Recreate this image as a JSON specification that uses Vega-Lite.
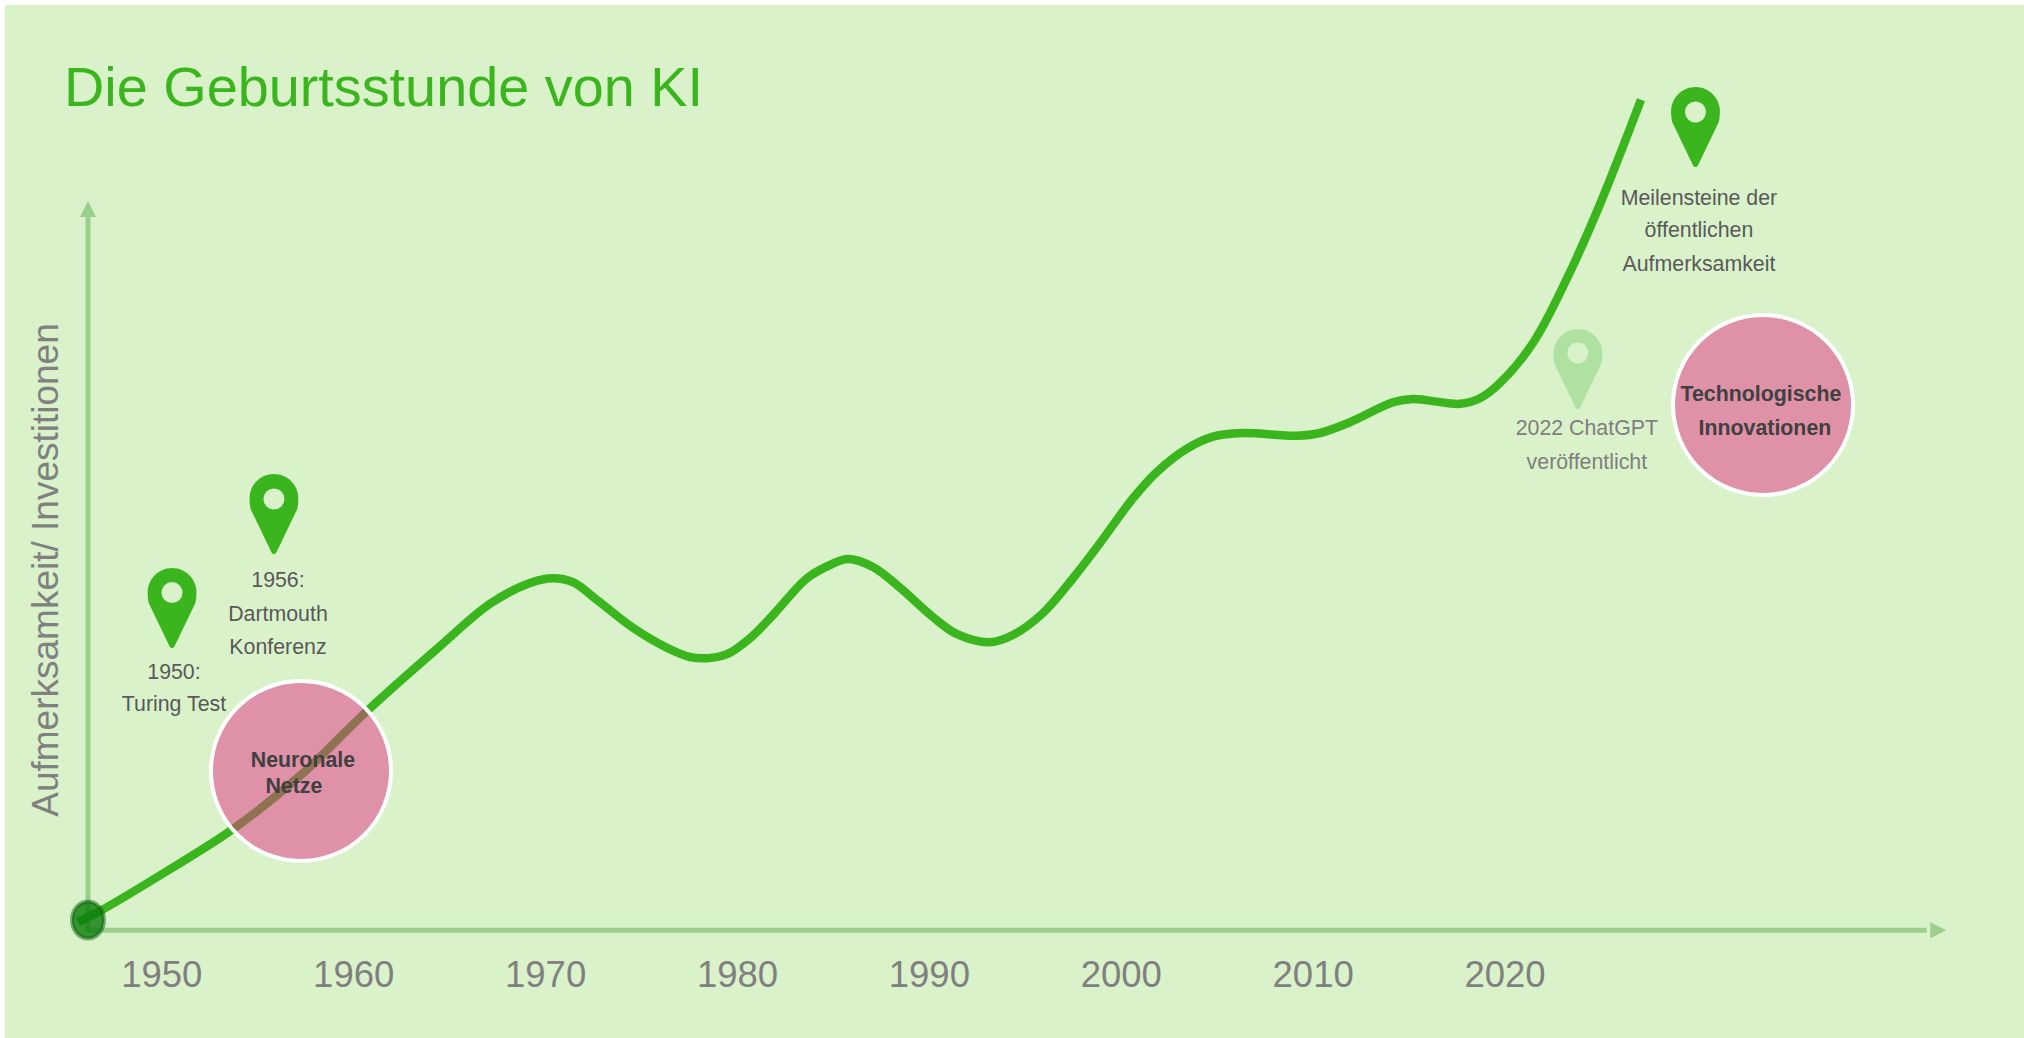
{
"$schema":"https://vega.github.io/schema/vega-lite/v6.json",
"width":2024,"height":1038,
"autosize":{"type":"fit","contains":"padding"},
"padding":{"left":5,"top":5,"right":0,"bottom":0},
"background":"#ffffff",
"view":{"fill":"#daf2ca","stroke":null},
"title":{"text":"Die Geburtsstunde von KI","anchor":"start","frame":"group","offset":-157,"dx":59,"baseline":"alphabetic","fontSize":55.8,"font":"Liberation Sans","fontWeight":"normal","color":"#3ab51d"},
"datasets":{
"curve":[{"year":1945.66,"value":1.13},{"year":1946.81,"value":2.5},{"year":1950.3,"value":7.5},{"year":1953.74,"value":12.75},{"year":1957.23,"value":19.4},{"year":1960.72,"value":27.5},{"year":1964.52,"value":35.6},{"year":1967.13,"value":40.9},{"year":1969.21,"value":43.5},{"year":1970.41,"value":44.1},{"year":1971.45,"value":43.6},{"year":1972.7,"value":41.4},{"year":1974.58,"value":37.9},{"year":1976.35,"value":35.4},{"year":1977.55,"value":34.25},{"year":1978.44,"value":34.1},{"year":1979.48,"value":34.6},{"year":1980.68,"value":36.6},{"year":1981.88,"value":39.5},{"year":1983.65,"value":44.1},{"year":1984.85,"value":45.75},{"year":1985.79,"value":46.5},{"year":1987.09,"value":45.5},{"year":1988.5,"value":42.9},{"year":1990.21,"value":39.25},{"year":1991.47,"value":37.1},{"year":1993.19,"value":36.1},{"year":1994.38,"value":37},{"year":1995.95,"value":39.75},{"year":1997.51,"value":44.1},{"year":1998.92,"value":48.5},{"year":2000.64,"value":54.1},{"year":2001.89,"value":57.4},{"year":2003.45,"value":60.3},{"year":2004.81,"value":61.8},{"year":2006.37,"value":62.25},{"year":2009.18,"value":61.9},{"year":2010.38,"value":62.25},{"year":2011.95,"value":63.6},{"year":2014.19,"value":66.1},{"year":2015.23,"value":66.5},{"year":2017.68,"value":65.9},{"year":2018.72,"value":66.6},{"year":2019.76,"value":68.5},{"year":2021.48,"value":73.5},{"year":2023.26,"value":81.6},{"year":2025.0,"value":91.0},{"year":2027.11,"value":103.9}],
"pins":[{"year":1950.56,"value":40.375,"hole":42.3,"state":"aktiv"},{"year":1955.87,"value":52.125,"hole":54,"state":"aktiv"},{"year":2029.95,"value":100.5,"hole":102.375,"state":"aktiv"},{"year":2023.82,"value":70.25,"hole":72.25,"state":"blass"}],
"labels":[{"year":1950.66,"value":32.3,"text":"1950:","state":"aktiv"},{"year":1950.66,"value":28.3,"text":"Turing Test","state":"aktiv"},{"year":1956.08,"value":43.7,"text":"1956:","state":"aktiv"},{"year":1956.08,"value":39.55,"text":"Dartmouth","state":"aktiv"},{"year":1956.08,"value":35.35,"text":"Konferenz","state":"aktiv"},{"year":2030.13,"value":91.5,"text":"Meilensteine der","state":"aktiv"},{"year":2030.13,"value":87.45,"text":"öffentlichen","state":"aktiv"},{"year":2030.13,"value":83.2,"text":"Aufmerksamkeit","state":"aktiv"},{"year":2024.29,"value":62.7,"text":"2022 ChatGPT","state":"blass"},{"year":2024.29,"value":58.45,"text":"veröffentlicht","state":"blass"}],
"topics":[{"year":1957.38,"value":21.3,"text":"Neuronale"},{"year":1956.91,"value":18.05,"text":"Netze"},{"year":2033.36,"value":66.95,"text":"Technologische"},{"year":2033.57,"value":62.7,"text":"Innovationen"}],
"circles":[{"year":1957.28,"value":20,"name":"Neuronale Netze"},{"year":2033.47,"value":65.75,"name":"Technologische Innovationen"}]
},
"encoding":{
"x":{"field":"year","type":"quantitative","scale":{"domain":[1941.855,2047.07],"nice":false,"zero":false},
"axis":{"values":[1950,1960,1970,1980,1990,2000,2010,2020],"format":"d","title":null,"domain":false,"ticks":false,"grid":false,"labelFontSize":36.5,"labelColor":"#808080","labelFont":"Liberation Sans","labelPadding":0,"offset":-81}},
"y":{"field":"value","type":"quantitative","scale":{"domain":[-13.375,115.75],"nice":false,"zero":false},
"axis":{"title":"Aufmerksamkeit/ Investitionen","titleFontSize":37,"titleColor":"#808080","titleFontWeight":"normal","titleFont":"Liberation Sans","titleAngle":-90,"titleX":41,"titleY":564.5,"titleAlign":"center","titleBaseline":"middle","labels":false,"ticks":false,"domain":false,"grid":false}}
},
"layer":[
{"data":{"values":[{"year":1946.18,"year2":2042.0,"value":0.1}]},"mark":{"type":"rule","color":"#9ccf8b","strokeWidth":5},"encoding":{"x2":{"field":"year2"}}},
{"data":{"values":[{"year":1946.18,"value":0,"value2":89.25}]},"mark":{"type":"rule","color":"#9ccf8b","strokeWidth":5},"encoding":{"y2":{"field":"value2"}}},
{"data":{"values":[{"year":2042.6,"value":0.1}]},"mark":{"type":"point","filled":true,"opacity":1,"color":"#9ccf8b","shape":"M1,0 L-1,1 L-1,-1 Z","size":256}},
{"data":{"values":[{"year":1946.18,"value":90.25}]},"mark":{"type":"point","filled":true,"opacity":1,"color":"#9ccf8b","shape":"M0,-1 L1,1 L-1,1 Z","size":256}},
{"data":{"name":"curve"},"mark":{"type":"line","color":"#3ab51d","strokeWidth":8.5,"interpolate":"catmull-rom","strokeCap":"butt"}},
{"data":{"values":[{"year":1946.18,"value":1.375}]},"mark":{"type":"point","filled":true,"shape":"M-0.865,0 A0.865,1 0 1,1 0.865,0 A0.865,1 0 1,1 -0.865,0 Z","size":1369,"fill":"#0a7a0a","fillOpacity":0.8,"stroke":"#0f5f0f","strokeOpacity":0.5,"strokeWidth":4,"opacity":1}},
{"data":{"name":"pins"},"mark":{"type":"point","filled":true,"opacity":1,"size":6400,"shape":"M0,1 C-0.03,1 -0.05,0.98 -0.06,0.96 L-0.58,-0.12 C-0.6,-0.18 -0.61,-0.3 -0.61,-0.39 A0.61,0.61 0 1,1 0.61,-0.39 C0.61,-0.3 0.6,-0.18 0.58,-0.12 L0.06,0.96 C0.05,0.98 0.03,1 0,1 Z"},
 "encoding":{"color":{"field":"state","type":"nominal","legend":null,"scale":{"domain":["aktiv","blass"],"range":["#3ab51d","#afe2a0"]}}}},
{"data":{"name":"pins"},"mark":{"type":"point","shape":"circle","filled":true,"opacity":1,"size":441,"color":"#daf2ca"},"encoding":{"y":{"field":"hole","type":"quantitative"}}},
{"data":{"name":"circles"},"mark":{"type":"point","shape":"circle","size":32400,"filled":true,"fill":"#e43086","fillOpacity":0.5,"stroke":"#ffffff","strokeWidth":4,"opacity":1,"strokeOpacity":1}},
{"data":{"name":"labels"},"mark":{"type":"text","font":"Liberation Sans","fontSize":21.33,"align":"center","baseline":"middle"},
 "encoding":{"text":{"field":"text"},"color":{"field":"state","type":"nominal","legend":null,"scale":{"domain":["aktiv","blass"],"range":["#595959","#7f7f7f"]}}}},
{"data":{"name":"topics"},"mark":{"type":"text","font":"Liberation Sans","fontSize":21.33,"fontWeight":"bold","align":"center","baseline":"middle","color":"#404040"},"encoding":{"text":{"field":"text"}}}
],
"resolve":{"scale":{"color":"independent"}}
}
